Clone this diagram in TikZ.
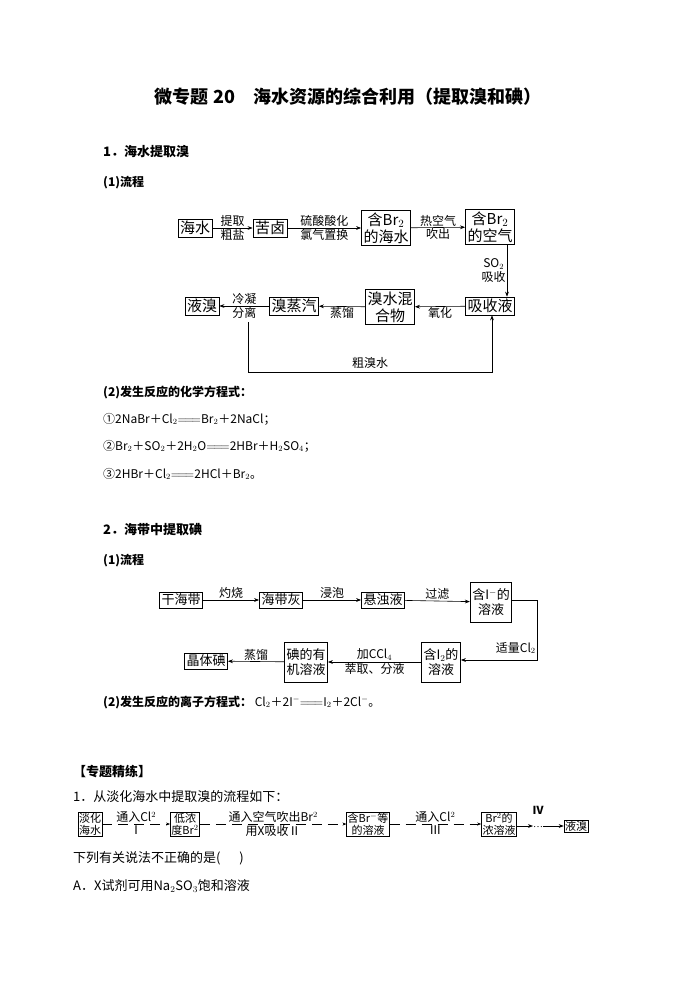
\documentclass[tikz,border=0pt]{standalone}
\usepackage{fontspec}
\setmainfont{Liberation Serif}
\newfontfamily\cjk{Noto Sans CJK SC}
\usetikzlibrary{arrows.meta}
\newcommand{\eqq}{$\mathrel{=\joinrel=\joinrel=}$}
\begin{document}
\begin{tikzpicture}[x=1pt,y=-1pt,
  every node/.style={font=\cjk\fontsize{13}{15}\selectfont},
  bx/.style={draw,line width=0.8pt,inner sep=2pt,align=center,font=\cjk\fontsize{15}{17}\selectfont},
  bx2/.style={draw,line width=0.8pt,inner sep=2pt,align=center,font=\cjk\fontsize{13}{15}\selectfont},
  sb/.style={draw,line width=0.6pt,inner sep=1pt,align=center,font=\cjk\fontsize{11}{12}\selectfont},
  ar/.style={-{Stealth[length=5pt]},line width=0.6pt},
  lb/.style={font=\cjk\fontsize{12}{14}\selectfont,inner sep=1pt},
  tx/.style={anchor=west,inner sep=0pt},
  eq/.style={anchor=west,inner sep=0pt,font=\cjk\fontsize{12}{14}\selectfont}]
\useasboundingbox (0,0) rectangle (696,983);
\node[font=\cjk\bfseries\fontsize{18}{20}\selectfont] (title) at (348,97) {微专题 20\quad 海水资源的综合利用（提取溴和碘）};
\node[tx,font=\cjk\bfseries\fontsize{13}{15}\selectfont] (s1) at (103,152) {1．海水提取溴};
\node[tx,font=\cjk\bfseries\fontsize{12}{14}\selectfont] (s1a) at (103,183) {(1)流程};
% flow 1
\node[bx] (a1) at (195,228) {海水};
\node[bx] (a2) at (270,228) {苦卤};
\node[bx] (a3) at (386,228) {含Br$_2$\\的海水};
\node[bx] (a4) at (490,227) {含Br$_2$\\的空气};
\node[bx] (a5) at (490,306) {吸收液};
\node[bx] (a6) at (390,307) {溴水混\\合物};
\node[bx] (a7) at (294,306) {溴蒸汽};
\node[bx] (a8) at (202,306) {液溴};
\draw[ar] (a1) -- node[lb,above]{提取} node[lb,below]{粗盐} (a2);
\draw[ar] (a2) -- node[lb,above]{硫酸酸化} node[lb,below]{氯气置换} (a3);
\draw[ar] (a3) -- node[lb,above]{热空气} node[lb,below]{吹出} (a4);
\draw[ar] (a4.south -| 507,0) -- node[lb,left,align=center]{SO$_2$\\吸收} (a5.north -| 507,0);
\draw[ar] (a5) -- node[lb,below]{氧化} (a6);
\draw[ar] (a6) -- node[lb,below]{蒸馏} (a7);
\draw[ar] (a7) -- node[lb,above]{冷凝} node[lb,below]{分离} (a8);
\coordinate (c1) at (248,322);
\draw[ar] (c1) -- (248,372) -- node[lb,above=2pt]{粗溴水} (492,372) -- (a5.south -| 492,0);
% equations
\node[tx,font=\cjk\bfseries\fontsize{12}{14}\selectfont] (e0) at (103,392) {(2)发生反应的化学方程式：};
\node[eq] (e1) at (103,419) {①2NaBr＋Cl$_2$\eqq Br$_2$＋2NaCl；};
\node[eq] (e2) at (103,446) {②Br$_2$＋SO$_2$＋2H$_2$O\eqq 2HBr＋H$_2$SO$_4$；};
\node[eq] (e3) at (103,474) {③2HBr＋Cl$_2$\eqq 2HCl＋Br$_2$。};
% section 2
\node[tx,font=\cjk\bfseries\fontsize{13}{15}\selectfont] (s2) at (103,530) {2．海带中提取碘};
\node[tx,font=\cjk\bfseries\fontsize{12}{14}\selectfont] (s2a) at (103,561) {(1)流程};
\node[bx2] (b1) at (181,600) {干海带};
\node[bx2] (b2) at (281,600) {海带灰};
\node[bx2] (b3) at (383,600) {悬浊液};
\node[bx2,minimum height=40pt] (b4) at (491,602) {含I$^-$的\\溶液};
\node[bx2,minimum height=40pt] (b5) at (441,662) {含I$_2$的\\溶液};
\node[bx2,minimum height=40pt] (b6) at (306,662) {碘的有\\机溶液};
\node[bx2] (b7) at (206,661) {晶体碘};
\draw[ar] (b1) -- node[lb,above]{灼烧} (b2);
\draw[ar] (b2) -- node[lb,above]{浸泡} (b3);
\draw[ar] (b3) -- node[lb,above]{过滤} (b4);
\draw[ar] (b4.east |- 0,600) -- (537,600) -- node[lb,left,pos=0.8]{适量Cl$_2$} (537,660) -- (b5.east |- 0,660);
\draw[ar] (b5) -- node[lb,above]{加CCl$_4$} node[lb,below]{萃取、分液} (b6);
\draw[ar] (b6) -- node[lb,above]{蒸馏} (b7);
\node[tx,font=\cjk\bfseries\fontsize{12}{14}\selectfont] (f0) at (103,702) {(2)发生反应的离子方程式：\mdseries\ Cl$_2$＋2I$^-$\eqq I$_2$＋2Cl$^-$。};
% practice
\node[tx,font=\cjk\bfseries\fontsize{13}{15}\selectfont] (p0) at (73,772) {【专题精练】};
\node[tx] (p1) at (73,797) {1．从淡化海水中提取溴的流程如下：};
\node[sb] (d1) at (90,824) {淡化\\海水};
\node[sb] (d2) at (185,824) {低浓\\度Br$^2$};
\node[sb] (d3) at (368,824) {含Br$^-$等\\的溶液};
\node[sb] (d4) at (499,824) {Br$^2$的\\浓溶液};
\node[sb] (d5) at (576,826) {液溴};
\tikzset{da/.style={-{Stealth[length=4pt]},line width=0.6pt,dash pattern=on 10pt off 6pt}}
\draw[da] (d1) -- node[lb,above]{通入Cl$^2$} node[lb,below]{Ⅰ} (d2);
\draw[da] (d2) -- node[lb,above]{通入空气吹出Br$^2$} node[lb,below]{用X吸收Ⅱ} (d3);
\draw[da] (d3) -- node[lb,above]{通入Cl$^2$} node[lb,below]{Ⅲ} (d4);
\coordinate (dots) at (540,826);
\draw[ar] (d4.east |- dots) -- (533,826);
\node[lb,font=\fontsize{10}{12}\selectfont] at (538,827) {…};
\draw[ar] (543,826) -- (d5);
\node[lb,font=\cjk\bfseries\fontsize{11}{12}\selectfont] at (538,810) {Ⅳ};
\node[tx] (p2) at (73,858) {下列有关说法不正确的是(\quad\ \ )};
\node[tx] (p3) at (73,886) {A．X试剂可用Na$_2$SO$_3$饱和溶液};
\end{tikzpicture}
\end{document}
